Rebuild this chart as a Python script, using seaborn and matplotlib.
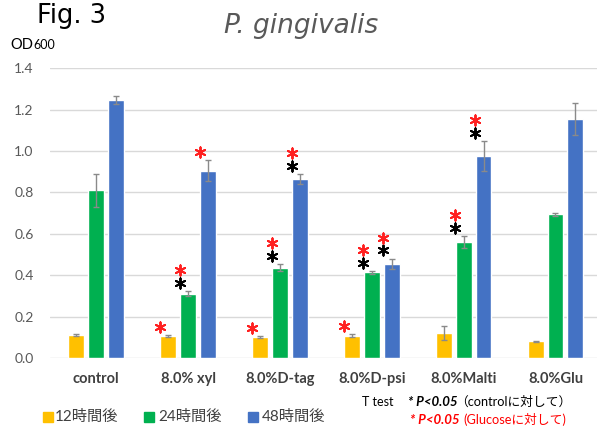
import matplotlib
matplotlib.use("Agg")
import matplotlib.pyplot as plt
import seaborn as sns
import pandas as pd
import numpy as np
from matplotlib.lines import Line2D

categories = ["control", "8.0% xyl", "8.0%D-tag", "8.0%D-psi", "8.0%Malti", "8.0%Glu"]
series = ["12時間後", "24時間後", "48時間後"]
od_12h = [0.11, 0.105, 0.10, 0.108, 0.12, 0.08]
od_24h = [0.81, 0.31, 0.436, 0.414, 0.56, 0.694]
od_48h = [1.245, 0.905, 0.863, 0.455, 0.976, 1.153]
err_12h = [0.005, 0.005, 0.005, 0.008, 0.035, 0.003]
err_24h = [0.08, 0.012, 0.016, 0.006, 0.03, 0.006]
err_48h = [0.02, 0.052, 0.024, 0.025, 0.072, 0.078]
# significance marks: black = vs control, red = vs Glucose
sig_ctrl_12h = [0, 0, 0, 0, 0, 0]
sig_ctrl_24h = [0, 1, 1, 1, 1, 0]
sig_ctrl_48h = [0, 0, 1, 1, 1, 0]
sig_glu_12h = [0, 1, 1, 1, 0, 0]
sig_glu_24h = [0, 1, 1, 1, 1, 0]
sig_glu_48h = [0, 1, 1, 1, 1, 0]

colors = ["#FFC000", "#00B050", "#4472C4"]

df = pd.DataFrame({
    "cat": categories * 3,
    "series": sum([[s] * len(categories) for s in series], []),
    "od": od_12h + od_24h + od_48h,
})
errs = [err_12h, err_24h, err_48h]
sig_ctrl = [sig_ctrl_12h, sig_ctrl_24h, sig_ctrl_48h]
sig_glu = [sig_glu_12h, sig_glu_24h, sig_glu_48h]
vals = [od_12h, od_24h, od_48h]

sns.set_style("white")
plt.rcParams['font.family'] = ['Lato', 'Noto Sans CJK JP', 'DejaVu Sans']

fig = plt.figure(figsize=(5.98, 4.34), dpi=100)
ax = fig.add_axes([0.084, 0.175, 0.914, 0.668])

sns.barplot(data=df, x="cat", y="od", hue="series", order=categories,
            hue_order=series, palette=colors, saturation=1, width=0.65, gap=0.2,
            errorbar=None, ax=ax, legend=False, zorder=3)

bar_containers = list(ax.containers)
star_kw = dict(marker=(6, 2, 0), s=55, linewidths=1.4, zorder=5)
for i, cont in enumerate(bar_containers):
    for j, bar in enumerate(cont):
        xc = bar.get_x() + bar.get_width() / 2
        top = vals[i][j] + errs[i][j]
        ax.errorbar(xc, vals[i][j], yerr=errs[i][j], color="#8a8a8a",
                    capsize=2, elinewidth=1, capthick=1, zorder=4)
        xs = xc - 0.09
        y = top + 0.04
        if sig_ctrl[i][j]:
            ax.scatter([xs], [y], color="black", **star_kw)
            y += 0.062
        if sig_glu[i][j]:
            ax.scatter([xs], [y], color="#FF2020", **star_kw)

ax.set_ylim(0, 1.4)
ax.set_xlim(-0.5, 5.45)
ticks = np.arange(0, 1.41, 0.2)
ax.set_yticks(ticks)
ax.set_yticklabels([f"{v:.1f}" for v in ticks])
ax.yaxis.grid(True, color="#d9d9d9", linewidth=1, zorder=0)
ax.set_axisbelow(True)
for s in ax.spines.values():
    s.set_visible(False)
ax.set_xlabel("")
ax.set_ylabel("")
ax.tick_params(axis="y", length=0, labelsize=10, labelcolor="#595959", pad=12)
ax.tick_params(axis="x", length=0, labelsize=10.5, labelcolor="#404040", pad=10)
for lbl in ax.get_xticklabels():
    lbl.set_fontweight("bold")

fig.text(37 / 598, 1 - 23 / 434, "Fig. 3", fontsize=18.5, color="black",
         family="DejaVu Sans", ha="left", va="baseline")
fig.text(301 / 598, 1 - 33 / 434, "P. gingivalis", fontsize=19, color="#595959",
         style="italic", family="DejaVu Sans", ha="center", va="baseline")
fig.text(10 / 598, 1 - 49 / 434, "OD", fontsize=10.5, color="black", ha="left", va="baseline")
fig.text(33 / 598, 1 - 49 / 434, "600", fontsize=9, color="black", ha="left", va="baseline")

# legend (manual, square + label)
leg_sq_x = [47.5, 149, 252.5]
leg_tx_x = [55, 158, 262]
for c, lab, sx, tx in zip(colors, series, leg_sq_x, leg_tx_x):
    fig.add_artist(Line2D([sx / 598], [1 - 417 / 434], marker="s", markersize=6.5,
                          linestyle="", markerfacecolor=c, markeredgecolor=c,
                          transform=fig.transFigure))
    fig.text(tx / 598, 1 - 417 / 434, lab, fontsize=11, color="#404040",
             ha="left", va="center")

fig.text(362 / 598, 1 - 402 / 434, "T test", fontsize=9, color="black", ha="left", va="center")
fig.text(408 / 598, 1 - 402 / 434, "* P<0.05", fontsize=9.5, color="black", ha="left",
         va="center", style="italic", fontweight="bold")
fig.text(455 / 598, 1 - 402 / 434, "（controlに対して）", fontsize=9.2, color="black",
         ha="left", va="center")
fig.text(410 / 598, 1 - 420 / 434, "* P<0.05", fontsize=9.5, color="#FF0000", ha="left",
         va="center", style="italic", fontweight="bold")
fig.text(463 / 598, 1 - 420 / 434, "(Glucoseに対して)", fontsize=9.2, color="#FF0000",
         ha="left", va="center")

fig.savefig("out.png", dpi=100)
